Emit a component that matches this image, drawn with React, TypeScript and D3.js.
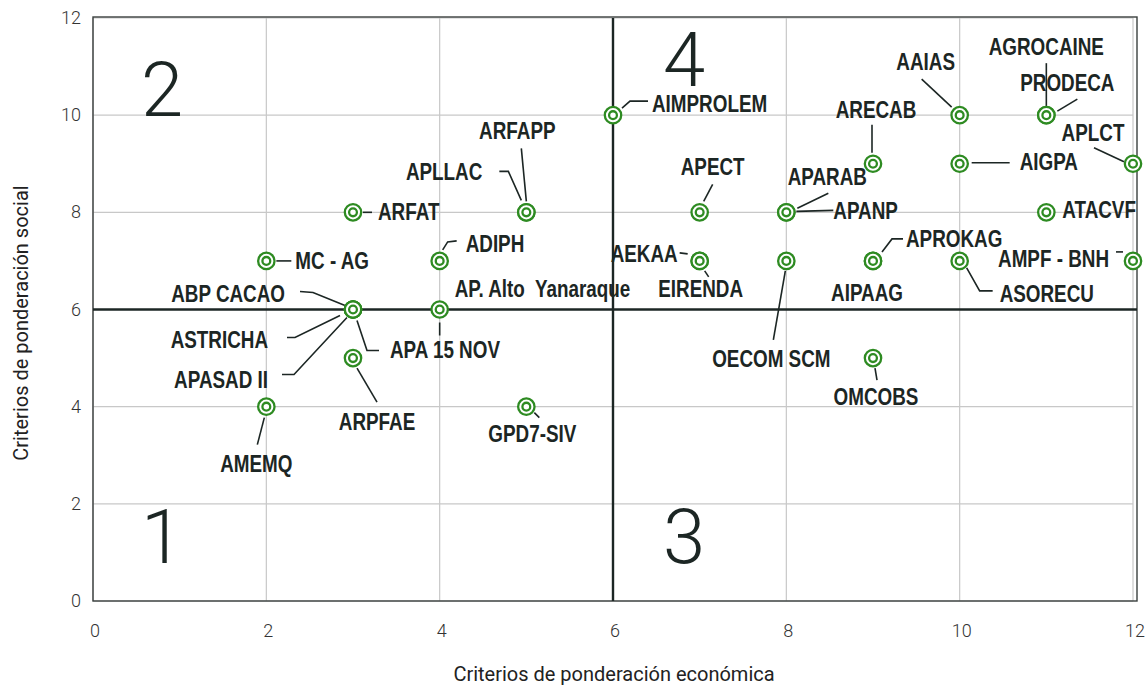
import React from 'react';
import * as d3 from 'd3';

// organizaciones y sus puntajes
const names = [
  'AMEMQ', 'MC - AG', 'ABP CACAO', 'ASTRICHA', 'APASAD II', 'APA 15 NOV', 'ARPFAE', 'ARFAT',
  'ADIPH', 'AP. Alto  Yanaraque', 'APLLAC', 'ARFAPP', 'GPD7-SIV', 'AIMPROLEM', 'APECT', 'AEKAA',
  'EIRENDA', 'OECOM SCM', 'APARAB', 'APANP', 'ARECAB', 'AIPAAG', 'APROKAG', 'OMCOBS',
  'AAIAS', 'AIGPA', 'ASORECU', 'AGROCAINE', 'PRODECA', 'APLCT', 'ATACVF', 'AMPF - BNH',
];
const economica = [2, 2, 3, 3, 3, 3, 3, 3, 4, 4, 5, 5, 5, 6, 7, 7, 7, 8, 8, 8, 9, 9, 9, 9, 10, 10, 10, 11, 11, 12, 11, 12];
const social = [4, 7, 6, 6, 6, 6, 5, 8, 7, 6, 8, 8, 4, 10, 8, 7, 7, 7, 8, 8, 9, 7, 7, 5, 10, 9, 7, 10, 10, 9, 8, 7];

const xTicks = [0, 2, 4, 6, 8, 10, 12];
const yTicks = [0, 2, 4, 6, 8, 10, 12];

const quadrants = ['1', '2', '3', '4'];

// label placement (pixels relative to the point): anchor, dx, dy, leader polyline
const labelLayout: [string, number, number, [number, number][]][] = [
  ['middle', -10, 65, [[-2, 11], [-9, 38]]],
  ['start', 29, 8, [[10, 0], [25, 0]]],
  ['end', -68, -8, [[-53, -18], [-40, -17], [-8, -4]]],
  ['end', -85, 38, [[-66, 28], [-58, 28], [-13, 6]]],
  ['end', -85, 78, [[-71, 65], [-59, 65], [-6, 8]]],
  ['start', 37, 48, [[4, 11], [14, 41], [26, 41]]],
  ['middle', 24, 72, [[4, 10], [24, 44]]],
  ['start', 25, 8, [[10, 0], [19, 0]]],
  ['start', 26, -9, [[3, -11], [8, -19], [17, -20]]],
  ['start', 15, -13, [[0, 13], [0, 26]]],
  ['end', -44, -32, [[-27, -41], [-18, -41], [-5, -12]]],
  ['middle', -9, -73, [[-5, -64], [0, -11]]],
  ['middle', 6, 35, [[8, 6], [13, 11]]],
  ['start', 39, -3, [[9, -7], [17, -14], [35, -14]]],
  ['middle', 13, -37, [[4, -11], [13, -28]]],
  ['end', -22, 1, [[-20, -8], [-12, -7]]],
  ['middle', 1, 36, [[5, 10], [9, 16]]],
  ['middle', -15, 106, [[-1, 10], [-13, 79]]],
  ['middle', 41, -27, [[11, -4], [42, -19]]],
  ['start', 47, 7, [[10, -1], [47, -2]]],
  ['middle', 3, -46, [[-1, -39], [-1, -11]]],
  ['middle', -6, 40, []],
  ['start', 33, -14, [[9, -9], [19, -22], [30, -22]]],
  ['middle', 3, 47, [[2, 10], [4, 22]]],
  ['middle', -34, -45, [[-38, -36], [-8, -8]]],
  ['start', 60, 6, [[12, -1], [50, -1]]],
  ['start', 40, 41, [[7, 7], [20, 30], [33, 30]]],
  ['middle', 0, -60, [[0, -52], [0, -8]]],
  ['middle', 21, -24, [[11, -4], [31, -16]]],
  ['middle', -40, -23, [[-39, -16], [-9, -2]]],
  ['start', 16, 6, []],
  ['end', -24, 6, [[-17, -9], [-10, -9]]],
];

const dark = '#1c2624';
const green = '#2e8b22';
const labelFont = '"Liberation Sans", Arial, sans-serif';

export default function App() {
  const width = 1147;
  const height = 690;
  const left = 93, right = 1133, top = 18, bottom = 601;

  const x = d3.scaleLinear().domain([0, 12]).range([left, right]);
  const y = d3.scaleLinear().domain([0, 12]).range([bottom, top]);
  const line = d3.line();

  return (
    <svg width={width} height={height} style={{ position: 'absolute', left: 0, top: 0 }}>
      <rect width={width} height={height} fill="#fff" />
      {xTicks.map(t => (
        <line key={'gx' + t} x1={x(t)} x2={x(t)} y1={top} y2={bottom} stroke="#c8c8c8" strokeWidth={1.2} />
      ))}
      {yTicks.map(t => (
        <line key={'gy' + t} x1={left} x2={right} y1={y(t)} y2={y(t)} stroke="#c8c8c8" strokeWidth={1.2} />
      ))}
      <rect x={left} y={top - 1} width={right - left + 4} height={bottom - top + 1} fill="none" stroke="#3a3f3e" strokeWidth={1.4} />
      <line x1={x(6)} x2={x(6)} y1={top} y2={bottom} stroke={dark} strokeWidth={2.4} />
      <line x1={left} x2={right + 4} y1={y(6)} y2={y(6)} stroke={dark} strokeWidth={2.4} />

      {xTicks.map(t => (
        <text key={'tx' + t} x={x(t) + 2} y={637} textAnchor="middle" fontFamily="Roboto" fontWeight={300} fontSize={18} fill="#333">{t}</text>
      ))}
      {yTicks.map(t => (
        <text key={'ty' + t} x={81} y={y(t) + 6} textAnchor="end" fontFamily="Roboto" fontWeight={300} fontSize={18} fill="#333">{t}</text>
      ))}
      <text x={614} y={681} textAnchor="middle" fontFamily="Roboto" fontSize={20} fill="#222">Criterios de ponderación económica</text>
      <text transform="translate(28,323) rotate(-90)" textAnchor="middle" fontFamily="Roboto" fontSize={20} fill="#222">Criterios de ponderación social</text>

      {quadrants.map(q => (
        <text key={'q' + q} x={q === '1' || q === '2' ? 162 : 684} y={q === '1' || q === '3' ? 563 : (q === '2' ? 116 : 86)}
          textAnchor="middle" fontFamily="Roboto" fontWeight={300} fontSize={76} fill={dark}>{q}</text>
      ))}

      {names.map((name, i) => {
        const px = x(economica[i]);
        const py = y(social[i]);
        const [anchor, dx, dy, leader] = labelLayout[i];
        return (
          <g key={name}>
            {leader.length > 1 && (
              <path d={line(leader.map(([a, b]) => [px + a, py + b]))!} fill="none" stroke={dark} strokeWidth={1.6} />
            )}
            <text transform={`translate(${px + dx},${py + dy}) scale(0.82,1)`} textAnchor={anchor} fontFamily={labelFont}
              fontWeight={700} fontSize={23} fill={dark} style={{ whiteSpace: 'pre' }}>{name}</text>
          </g>
        );
      })}
      {names.map((name, i) => (
        <g key={'m' + name} transform={`translate(${x(economica[i])},${y(social[i])})`}>
          <circle r={8.2} fill="#fff" stroke={green} strokeWidth={2.3} />
          <circle r={3.9} fill="none" stroke={green} strokeWidth={2.3} />
        </g>
      ))}
    </svg>
  );
}
